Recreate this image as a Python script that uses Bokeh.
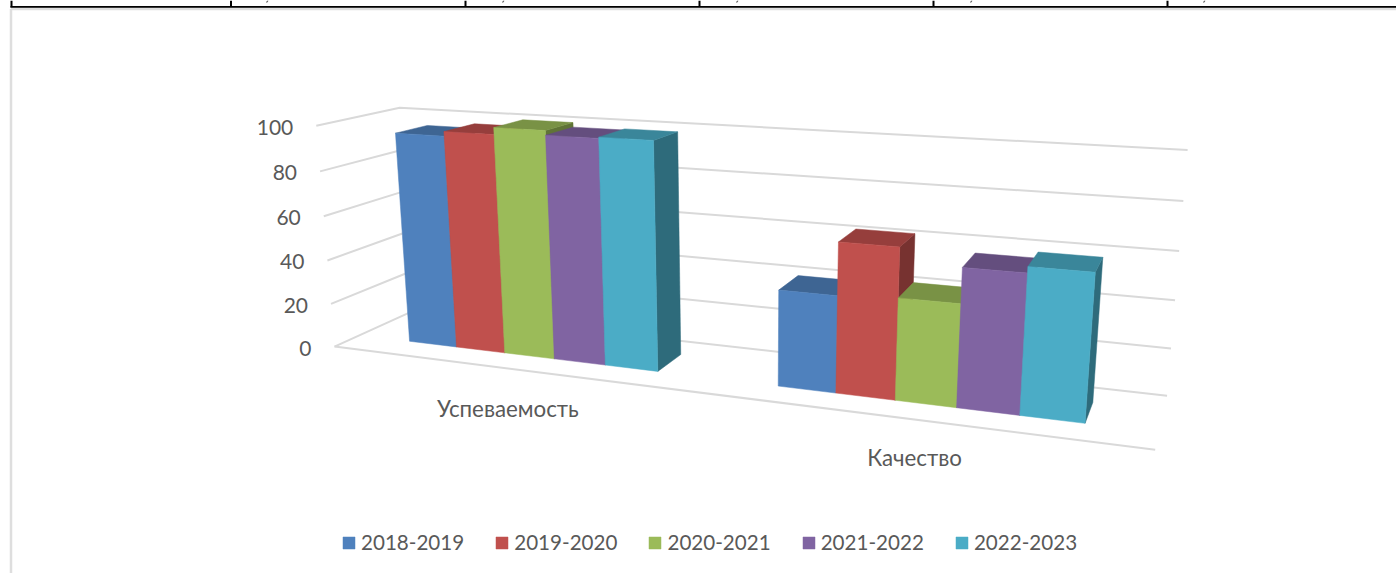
import numpy as np
from bokeh.plotting import figure
from bokeh.models import Legend, LegendItem
from bokeh.embed import file_html
from bokeh.resources import INLINE
from bokeh.core.properties import value

categories = ["Успеваемость", "Качество"]
series_names = ["2018-2019", "2019-2020", "2020-2021", "2021-2022", "2022-2023"]
values_2018 = [95.5, 41]
values_2019 = [97.5, 63]
values_2020 = [100.5, 42.5]
values_2021 = [98.5, 57]
values_2022 = [99, 59.5]
tick_values = [0, 20, 40, 60, 80, 100]
colors = ["#4F81BD", "#C0504D", "#9BBB59", "#8064A2", "#4BACC6"]
all_values = [values_2018, values_2019, values_2020, values_2021, values_2022]

# camera calibration: (u, v/100, w) -> page pixel
GAP = 2.19
BW = 1 / (2 * (5 + GAP))
A0 = GAP / 2 * BW
W0, W1 = 0.3, 0.7
calib = [
    ((0, 0, 0), (335, 346)), ((1, 0, 0), (1155, 450)), ((1, 0, 1), (1167, 395)), ((0, 0, 1), (412, 311)),
    ((0, 1, 0), (315, 125)), ((0, 1, 1), (400, 107)), ((1, 1, 1), (1187, 150)),
    ((A0, 0, W0), (409, 341)), ((.5 - A0, 0, W0), (657, 371)), ((.5 + A0, 0, W0), (778, 386)),
    ((1 - A0, 0, W0), (1084, 422)), ((.5 - A0, 0, W1), (680, 353)),
]
rows = []
for (u, v, w), (x, y) in calib:
    X = [u, v, w, 1]
    rows.append(X + [0, 0, 0, 0] + [-x * c for c in X])
    rows.append([0, 0, 0, 0] + X + [-y * c for c in X])
P = np.linalg.svd(np.array(rows, float))[2][-1].reshape(3, 4)


def proj(u, v, w):
    q = P @ np.array([u, v / 100, w, 1.0])
    return float(q[0] / q[2]), float(q[1] / q[2])


def poly(pts):
    xy = [proj(*pt) for pt in pts]
    return [a for a, _ in xy], [b for _, b in xy]


def shade(hex_color, f):
    r, g, b = [int(hex_color[i:i + 2], 16) for i in (1, 3, 5)]
    return "#%02X%02X%02X" % (round(r * f), round(g * f), round(b * f))


p = figure(width=1396, height=573, output_backend="svg", toolbar_location=None,
           x_range=(0, 1396), y_range=(573, 0), x_axis_type=None, y_axis_type=None,
           min_border=0, outline_line_color=None, background_fill_color="white",
           margin=(0, 0, 0, 0))
p.grid.visible = False

# document fragments above the chart
cell_edges = [11, 230.5, 465, 699, 933, 1167]
comma_marks = [266, 502, 736, 970, 1203]
p.segment([10], [6.5], [1396], [6.5], line_color="black", line_width=2)
p.segment(cell_edges, [0] * 6, cell_edges, [6.5] * 6, line_color="black", line_width=2)
p.segment(comma_marks, [2] * 5, [m + 1.5 for m in comma_marks], [0] * 5, line_color="#555555", line_width=1.2)
p.segment([10.5, 10.5], [8.5, 8.5], [1396, 10.5], [8.5, 573], line_color="#DEDEDE", line_width=2.5)

# walls
gx, gy = [], []
for t in tick_values:
    a, b = poly([(0, t, 0), (0, t, 1), (1, t, 1)])
    gx.append(a); gy.append(b)
a, b = poly([(0, 0, 0), (1, 0, 0)])
gx.append(a); gy.append(b)
p.multi_line(gx, gy, line_color="#D9D9D9", line_width=2)

legend_items = []
for i, (name, col, vals) in enumerate(zip(series_names, colors, all_values)):
    for g, v in enumerate(vals):
        u0 = g * .5 + A0 + i * BW
        u1 = u0 + BW
        sx, sy = poly([(u1, 0, W0), (u1, 0, W1), (u1, v, W1), (u1, v, W0)])
        p.patch(sx, sy, fill_color=shade(col, .62), line_color=shade(col, .62), line_width=0.5)
        tx, ty = poly([(u0, v, W0), (u1, v, W0), (u1, v, W1), (u0, v, W1)])
        p.patch(tx, ty, fill_color=shade(col, .78), line_color=shade(col, .78), line_width=0.5)
        fx, fy = poly([(u0, 0, W0), (u1, 0, W0), (u1, v, W0), (u0, v, W0)])
        r = p.patch(fx, fy, fill_color=col, line_color=col, line_width=0.5)
    legend_items.append(LegendItem(label=name, renderers=[r]))

FONT = "Lato"
TEXT = "#595959"
lx, ly, lt = [], [], []
for t in tick_values:
    x, y = proj(0, t, 0)
    lx.append(x - 23); ly.append(y + 1.5); lt.append(str(t))
p.text(lx, ly, text=lt, text_font=value(FONT), text_font_size="21px", text_color=TEXT,
       text_align="right", text_baseline="middle")

cx, cy, ct = [], [], []
for g, c in enumerate(categories):
    x, y = proj(g * .5 + .25, 0, 0)
    cx.append(x); cy.append(y + (40.5, 37.5)[g]); ct.append(c)
p.text(cx, cy, text=ct, text_font=value(FONT), text_font_size="22.3px", text_color=TEXT,
       text_align="center", text_baseline="middle")

legend = Legend(items=legend_items, orientation="horizontal", location=(341, 19),
                glyph_width=15, glyph_height=15, label_standoff=5, spacing=30, padding=0, margin=0,
                border_line_color=None, background_fill_alpha=0,
                label_text_font=FONT, label_text_font_size="20.6px", label_text_color=TEXT)
p.add_layout(legend, "center")

open("out.html", "w").write(file_html(p, INLINE))
